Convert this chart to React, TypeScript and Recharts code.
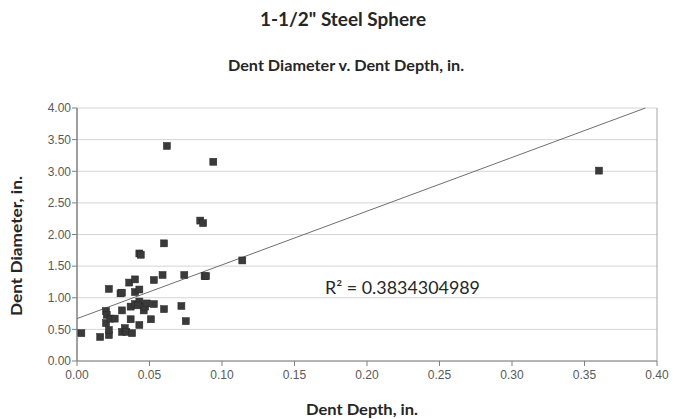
import React from 'react';
import {
  ScatterChart,
  Scatter,
  XAxis,
  YAxis,
  CartesianGrid,
  ReferenceLine,
} from 'recharts';

// dent depth (in.) and matching dent diameter (in.)
const depth = [
  0.062, 0.094, 0.085, 0.087, 0.06, 0.043, 0.044, 0.003, 0.016, 0.022, 0.022,
  0.022, 0.02, 0.0205, 0.02, 0.023, 0.026, 0.03, 0.031, 0.031, 0.031, 0.033,
  0.034, 0.038, 0.037, 0.037, 0.036, 0.04, 0.04, 0.043, 0.04, 0.043, 0.042,
  0.046, 0.047, 0.048, 0.043, 0.051, 0.053, 0.053, 0.059, 0.06, 0.072, 0.074,
  0.075, 0.088, 0.089, 0.114, 0.36,
];
const diameter = [
  3.4, 3.15, 2.22, 2.18, 1.86, 1.7, 1.68, 0.44, 0.38, 0.41, 0.49, 1.14, 0.79,
  0.73, 0.6, 0.67, 0.67, 1.07, 1.08, 0.8, 0.46, 0.52, 0.46, 0.44, 0.66, 0.86,
  1.24, 1.29, 1.09, 1.13, 0.9, 0.94, 0.88, 0.8, 0.86, 0.91, 0.57, 0.66, 0.9,
  1.28, 1.36, 0.82, 0.87, 1.36, 0.63, 1.34, 1.34, 1.59, 3.01,
];

const xTicks = [0, 0.05, 0.1, 0.15, 0.2, 0.25, 0.3, 0.35, 0.4];
const yTicks = [0, 0.5, 1, 1.5, 2, 2.5, 3, 3.5, 4];

// linear trendline ends
const trendX = [0, 0.392];
const trendY = [0.67, 4.0];

const data = depth.map((d, i) => ({ x: d, y: diameter[i] }));

const SquareDot = (props: any) => {
  const { cx, cy } = props;
  if (cx == null || cy == null) return null;
  return <rect x={cx - 3.5} y={cy - 3.5} width={7} height={7} fill="#3a3a3a" stroke="#262626" strokeWidth={0.5} />;
};

const tickStyle = { fill: '#595959', fontSize: 12, fontFamily: 'Liberation Sans, Arial, sans-serif' };
const labelFont = 'Lato, "Open Sans", sans-serif';

export default function App() {
  return (
    <div style={{ position: 'absolute', left: 0, top: 0, width: 673, height: 419, background: '#fff' }}>
      <ScatterChart width={673} height={419} margin={{ top: 108, right: 16, bottom: 28, left: 27 }}>
        <CartesianGrid vertical={false} stroke="#d4d4d4" />
        <XAxis
          type="number"
          dataKey="x"
          domain={[0, 0.4]}
          ticks={xTicks}
          tickFormatter={(v: number) => v.toFixed(2)}
          tick={{ ...tickStyle, dy: 2 }}
          axisLine={{ stroke: '#808080' }}
          tickLine={{ stroke: '#808080' }}
          tickSize={5}
          height={30}
          allowDataOverflow
        />
        <YAxis
          type="number"
          dataKey="y"
          domain={[0, 4]}
          ticks={yTicks}
          tickFormatter={(v: number) => v.toFixed(2)}
          tick={tickStyle}
          axisLine={{ stroke: '#808080', strokeWidth: 1.5 }}
          tickLine={{ stroke: '#808080' }}
          tickSize={5}
          tickMargin={1}
          width={50}
          allowDataOverflow
        />
        <ReferenceLine x={0.4} stroke="#a6a6a6" />
        <ReferenceLine
          segment={[
            { x: trendX[0], y: trendY[0] },
            { x: trendX[1], y: trendY[1] },
          ]}
          stroke="#6f6f6f"
          strokeWidth={1}
        />
        <Scatter data={data} shape={<SquareDot />} isAnimationActive={false} />
      </ScatterChart>
      <svg width={673} height={419} style={{ position: 'absolute', left: 0, top: 0, pointerEvents: 'none' }}>
        <text
          x={343}
          y={26}
          textAnchor="middle"
          fontFamily={labelFont}
          fontWeight="bold"
          fontSize={19}
          fill="#262626"
          textLength={166}
          lengthAdjust="spacingAndGlyphs"
        >
          1-1/2" Steel Sphere
        </text>
        <text
          x={346}
          y={71}
          textAnchor="middle"
          fontFamily={labelFont}
          fontWeight="bold"
          fontSize={15}
          fill="#262626"
          textLength={236}
          lengthAdjust="spacingAndGlyphs"
        >
          Dent Diameter v. Dent Depth, in.
        </text>
        <text
          x={0}
          y={0}
          transform="translate(22,246) rotate(-90)"
          textAnchor="middle"
          fontFamily={labelFont}
          fontWeight="bold"
          fontSize={15}
          fill="#262626"
          textLength={140}
          lengthAdjust="spacingAndGlyphs"
        >
          Dent Diameter, in.
        </text>
        <text
          x={362}
          y={415}
          textAnchor="middle"
          fontFamily={labelFont}
          fontWeight="bold"
          fontSize={15}
          fill="#262626"
          textLength={112}
          lengthAdjust="spacingAndGlyphs"
        >
          Dent Depth, in.
        </text>
        <text
          x={325}
          y={294}
          fontFamily={labelFont}
          fontSize={17}
          fill="#262626"
          textLength={155}
          lengthAdjust="spacingAndGlyphs"
        >
          R² = 0.3834304989
        </text>
      </svg>
    </div>
  );
}
